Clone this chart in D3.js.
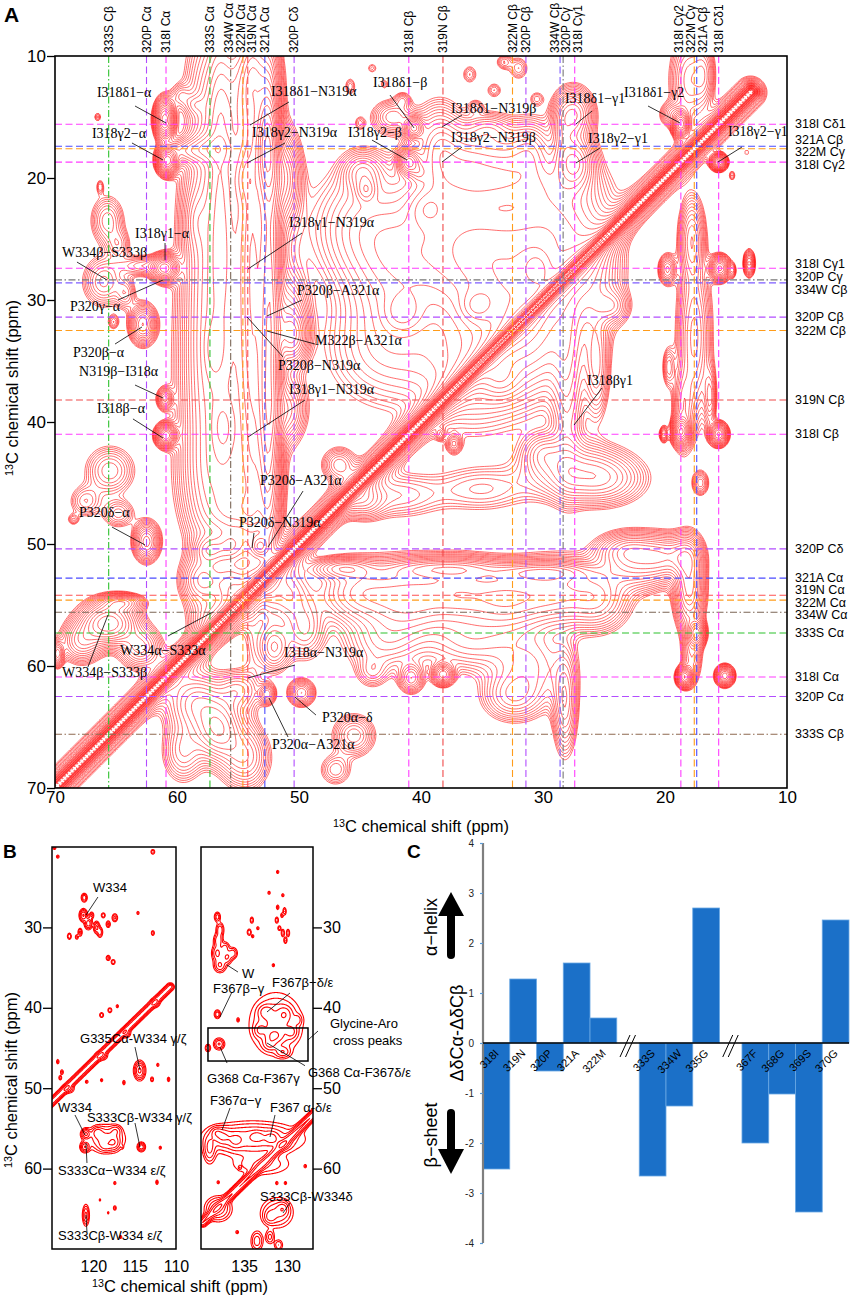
<!DOCTYPE html>
<html lang="en">
<head>
<meta charset="utf-8">
<title>13C-13C correlation spectra and secondary shifts</title>
<script src="https://cdn.jsdelivr.net/npm/d3@7"></script>
<style>
  body { margin: 0; background: #fff; }
  svg { display: block; font-family: "Liberation Sans", Arial, sans-serif; }
  .note { font-family: "Liberation Serif", "Times New Roman", serif; font-size: 14px; }
  .lead { stroke: #000; stroke-width: 0.8; }
</style>
</head>
<body>
<script>
// ---------- data: panel A (ppm) ----------
var shiftNames = ["333S Cβ", "320P Cα", "318I Cα", "333S Cα", "334W Cα", "322M Cα", "319N Cα", "321A Cα",
  "320P Cδ", "318I Cβ", "319N Cβ", "322M Cβ", "320P Cβ", "334W Cβ", "320P Cγ", "318I Cγ1",
  "318I Cγ2", "322M Cγ", "321A Cβ", "318I Cδ1"];
var shiftPpm = [65.6, 62.5, 60.9, 57.3, 55.6, 54.6, 54.2, 52.8, 50.4, 41.0, 38.2, 32.5, 31.4, 28.6, 28.35, 27.4,
  18.7, 17.6, 17.4, 15.6];
var ticksA = [10, 20, 30, 40, 50, 60, 70];

// cross peaks [x ppm, y ppm, width x, width y, height]
var peaksA = [
  [66.5, 15.0, 0.2, 0.25, 0.25], [61.0, 15.2, 0.45, 0.9, 2.5], [59.7, 13.3, 0.5, 0.6, 0.35], [58.6, 14.0, 0.5, 0.5, 0.3],
  [60.8, 18.6, 0.45, 0.6, 3.0], [59.5, 17.8, 1.0, 0.6, 0.6], [57.5, 17.6, 1.2, 0.7, 0.7], [66.3, 20.7, 0.2, 0.4, 0.25],
  [55.5, 14, 1.8, 4, 0.8], [55.0, 25, 2.2, 6, 1.2], [55.5, 37, 2.2, 6, 1.2], [56.0, 45, 2.0, 3, 0.8],
  [57.8, 30, 1.0, 12, 0.6], [56.5, 22, 0.6, 8, 0.8], [53.8, 28, 0.6, 14, 1.5], [52.6, 17.5, 0.5, 2.5, 4.0],
  [52.4, 28, 0.5, 10, 2.5], [52.5, 40, 0.55, 6, 2.0], [51.3, 20, 0.8, 2.0, 1.2], [50.8, 31.5, 0.9, 2, 0.8],
  [50.5, 33, 0.7, 1.2, 1.0], [51.0, 39, 0.9, 1.5, 0.7], [53.5, 12, 1.0, 2, 0.8], [55.0, 47.5, 1.5, 1.2, 0.6],
  [57.0, 34, 0.5, 1.5, 0.5], [56.2, 40.5, 0.6, 1.5, 0.6], [54.5, 20, 0.5, 1.2, 0.7], [58.5, 23.5, 0.6, 1.5, 0.4],
  [45, 24, 2.5, 3, 0.5], [42, 27, 2.5, 3.5, 0.6], [43, 34, 3, 3, 0.4], [37, 25, 3, 4, 0.9],
  [33, 28, 3, 4, 1.0], [29, 24, 2.5, 3.5, 0.9], [31, 33, 2.5, 3, 0.8], [36, 36, 3, 3, 0.5],
  [26, 28, 1.5, 3, 0.6], [24.3, 30.5, 0.8, 0.8, 0.5], [34, 20.5, 4, 1.2, 0.5], [39.5, 22.5, 1.0, 1.0, 0.5],
  [35.5, 30.5, 0.8, 0.8, 0.6], [30.5, 27.5, 0.8, 1.0, 0.7], [41.5, 31, 1.0, 1.0, 0.4], [33.5, 36.5, 1.0, 1.0, 0.4],
  [38.5, 17.5, 1.2, 2.0, 0.9], [36, 18.5, 1.5, 1.5, 0.7], [33, 18.5, 1.5, 1.5, 0.6], [31, 17.8, 1.0, 1.5, 0.6],
  [34.5, 16, 1.2, 0.8, 0.4], [36, 11.5, 0.4, 0.5, 0.25], [34, 12.8, 0.4, 0.4, 0.25], [32, 11, 0.5, 0.6, 0.3],
  [30.5, 13.5, 0.4, 0.4, 0.22], [33.2, 10.5, 0.4, 0.4, 0.3], [35.5, 14.2, 0.4, 0.4, 0.25],
  [40.6, 15.9, 0.45, 0.5, 1.5], [42.3, 15.0, 1.0, 0.8, 0.6], [41.5, 13.6, 0.4, 0.4, 0.3], [41.0, 18.7, 0.5, 0.6, 1.8],
  [40.2, 19.5, 0.4, 0.5, 0.5], [44.8, 19.5, 1.0, 1.0, 0.6], [44.5, 21.0, 0.5, 0.6, 0.5], [45.8, 12.5, 0.3, 0.5, 0.25],
  [45, 15.5, 0.3, 0.4, 0.22], [44, 11, 0.3, 0.3, 0.2], [43, 12.3, 0.25, 0.3, 0.2],
  [27.5, 14.8, 0.9, 1.2, 1.3], [27.4, 18.7, 0.9, 1.3, 1.4], [28.4, 16.5, 0.5, 1.5, 0.5],
  [18.0, 12, 0.9, 2.2, 0.7], [19.4, 14.8, 0.6, 0.6, 0.5], [18.7, 15.6, 0.35, 0.55, 2.5], [16.8, 11.5, 0.5, 1.5, 0.5],
  [15.6, 18.7, 0.35, 0.35, 2.5], [13.3, 17.9, 0.15, 0.2, 0.2], [14.5, 19.8, 0.18, 0.3, 0.25],
  [65.7, 23.5, 0.8, 1.2, 0.5], [64.8, 25.5, 0.6, 0.8, 0.35], [66, 28.5, 1.0, 1.2, 0.55], [64.2, 29.5, 0.5, 0.8, 0.35],
  [65.2, 31.8, 0.3, 0.4, 0.3], [61.0, 27.4, 0.6, 0.6, 2.0], [62.8, 27.2, 1.2, 0.5, 0.5], [62.8, 32.0, 0.6, 0.9, 1.3],
  [61.0, 38.1, 0.35, 0.5, 0.8], [60.9, 41.1, 0.45, 0.5, 2.2], [65.5, 44, 1.2, 1.2, 0.5], [67.5, 46.5, 0.8, 0.8, 0.35],
  [64.8, 47.5, 0.8, 0.7, 0.4], [62.5, 49.8, 0.6, 0.9, 1.2], [68.5, 48.0, 0.3, 0.3, 0.25],
  [57.3, 50.5, 0.8, 0.7, 0.7], [55.5, 50.2, 0.8, 0.8, 0.7], [58.0, 53, 1.0, 1.2, 0.8], [55.5, 53.5, 1.0, 1.3, 0.9],
  [57, 56, 1.2, 1.0, 0.5], [53.2, 50.2, 0.4, 0.5, 1.0],
  [65.6, 56.5, 1.3, 1.0, 2.2], [67.8, 58.0, 1.0, 1.0, 0.8], [63, 58.5, 1.0, 1.0, 0.8], [69.8, 59.0, 0.3, 0.6, 1.0],
  [64.5, 54.8, 1.0, 0.4, 1.0],
  [58.5, 63, 1.5, 1.5, 0.8], [56.6, 65.2, 1.2, 1.5, 1.2], [54.5, 67.5, 1.2, 1.5, 0.7], [59.5, 67, 1.0, 1.5, 0.5],
  [55, 62, 1.0, 1.0, 0.5],
  [51, 54, 1.2, 1.5, 0.6], [49.5, 57, 1.0, 1.5, 0.5], [52.0, 58.5, 0.8, 1.2, 0.6], [49.8, 62.2, 0.6, 0.6, 0.9],
  [52.6, 62.3, 0.4, 0.5, 0.7], [45.5, 65.7, 1.0, 1.0, 0.6], [47, 68.5, 0.8, 0.8, 0.35], [44.7, 46.4, 1.0, 0.9, 0.6],
  [46.7, 43.5, 0.8, 0.8, 0.6],
  [45, 54, 2.0, 1.5, 0.9], [41, 54.5, 2.0, 1.8, 1.0], [37, 54, 2.0, 1.6, 1.0], [33, 54.5, 2.0, 1.6, 1.1],
  [29, 54, 2.0, 1.6, 1.0], [25.5, 54.5, 1.5, 1.5, 0.8], [46.5, 52, 1.5, 0.5, 0.8], [38, 52, 3, 0.5, 0.8],
  [30, 52.3, 2.5, 0.5, 0.8], [22.3, 51.6, 1.8, 1.3, 0.9], [20.0, 51.0, 1.2, 1.0, 0.8], [18.0, 53.5, 0.7, 2.0, 1.4],
  [17.4, 57.3, 0.4, 0.6, 1.5], [18.4, 60.9, 0.35, 0.45, 2.2], [15.1, 60.8, 0.4, 0.45, 1.8], [17.8, 59, 0.5, 1.5, 0.5],
  [23, 50.5, 1.5, 0.8, 0.7], [18.3, 51, 0.8, 1, 0.8],
  [43, 58, 2, 1.5, 0.5], [36, 58, 2.5, 1.5, 0.5], [31, 60, 2, 2, 0.5], [38.2, 60.7, 0.5, 0.5, 1.2],
  [40.8, 61.0, 0.6, 0.7, 0.7], [32.5, 62.5, 1.5, 1.2, 0.5], [28.2, 63, 0.6, 2.5, 0.7], [44, 60.5, 0.8, 0.8, 0.3],
  [28, 37, 0.8, 5, 0.5], [25.6, 35.5, 0.6, 2.5, 0.6], [27.5, 44, 2.5, 1.5, 0.7], [25, 44.7, 2, 1.2, 0.6],
  [30, 42.5, 1, 1, 0.4], [37.3, 41.8, 0.35, 0.45, 0.5], [38.4, 41, 0.25, 0.3, 0.35], [42, 46, 2.5, 1.2, 0.35],
  [35, 45.5, 2.5, 1.2, 0.3],
  [17.8, 25, 0.6, 2, 0.8], [17.6, 33, 0.8, 4, 0.8], [18.5, 39, 0.5, 2, 0.6], [18.7, 40.8, 0.4, 0.6, 2.0],
  [15.6, 41.0, 0.4, 0.5, 2.0], [20.1, 41.0, 0.2, 0.4, 0.6], [15.5, 27.4, 0.45, 0.55, 2.0], [13.1, 27.0, 0.25, 0.6, 1.0],
  [19.8, 27.5, 0.4, 0.7, 0.8], [14.4, 27.6, 0.15, 0.4, 0.3], [16.3, 38, 0.3, 1.5, 0.5], [17.1, 45, 0.4, 0.6, 0.5],
  [19.7, 35.5, 0.3, 1, 0.4]
];
// diagonal ridges [x1, y1, x2, y2, width, height, profile (0 gaussian, 1 sharp)]
var diagA = [[71.5, 71.67, 12.8, 12.97, 0.137, 14, 1], [71.5, 71.33, 12.97, 12.8, 0.137, 14, 1],
  [71.5, 71.5, 13, 13, 0.75, 0.6, 0]];
// annotations [text, text x, text y, leader from x, y, to x, y] (ppm)
var notesA = [
  ["I318δ1−α", 66.56, 13.36, 63.44, 14.1, 60.9, 15.49],
  ["I318γ2−α", 66.97, 16.72, 63.69, 17.13, 61.15, 18.52],
  ["I318δ1−N319α", 52.3, 13.28, 50.82, 13.77, 54.02, 15.66],
  ["I318γ2−N319α", 53.85, 16.64, 51.15, 17.13, 54.26, 18.77],
  ["I318δ1−β", 43.93, 12.54, 42.54, 13.2, 40.57, 15.9],
  ["I318γ2−β", 45.98, 16.64, 44.02, 16.89, 41.15, 18.52],
  ["I318δ1−N319β", 37.54, 14.67, 36.64, 14.84, 38.28, 15.82],
  ["I318γ2−N319β", 37.54, 17.05, 36.64, 17.46, 38.28, 18.69],
  ["I318δ1−γ1", 28.2, 13.85, 25.98, 14.51, 27.3, 15.57],
  ["I318γ2−γ1", 26.31, 17.13, 25.33, 17.54, 27.3, 18.77],
  ["I318δ1−γ2", 23.36, 13.36, 21.39, 14.1, 18.77, 15.49],
  ["I318γ2−γ1", 14.84, 16.56, 13.69, 17.46, 15.66, 18.69],
  ["I318γ1−α", 63.44, 24.92, 60.98, 25.33, 60.98, 26.72],
  ["W334β−S333β", 69.43, 26.48, 68.2, 26.89, 65.74, 28.36],
  ["P320γ−α", 68.77, 30.9, 64.84, 30.0, 61.15, 28.36],
  ["P320β−α", 68.52, 34.67, 65.08, 33.61, 62.87, 32.21],
  ["N319β−I318α", 68.03, 36.23, 63.44, 36.97, 61.15, 38.03],
  ["I318β−α", 66.56, 39.26, 63.61, 39.75, 61.15, 41.31],
  ["I318γ1−N319α", 50.82, 24.02, 49.75, 24.51, 54.18, 27.46],
  ["P320β−A321α", 50.16, 29.59, 49.75, 30.0, 52.62, 31.31],
  ["M322β−A321α", 48.69, 33.69, 48.69, 33.61, 52.62, 32.54],
  ["P320β−N319α", 51.72, 35.74, 51.31, 34.67, 54.26, 31.39],
  ["I318γ1−N319α", 50.82, 37.7, 49.51, 38.2, 54.18, 41.23],
  ["I318βγ1", 26.39, 36.97, 25.16, 37.21, 27.46, 40.25],
  ["P320δ−A321α", 53.2, 45.16, 49.67, 45.66, 52.54, 50.25],
  ["P320δ−N319α", 54.92, 48.61, 53.69, 49.1, 53.85, 50.33],
  ["P320δ−α", 68.03, 47.79, 65.33, 48.61, 62.62, 50.08],
  ["W334α−S333α", 64.67, 59.1, 60.74, 57.54, 57.05, 55.57],
  ["W334β−S333β", 69.43, 60.9, 67.3, 60.08, 65.66, 55.82],
  ["I318α−N319α", 51.23, 59.26, 50.33, 59.92, 54.18, 60.98],
  ["P320α−δ", 48.11, 64.59, 48.61, 64.02, 50.33, 62.54],
  ["P320α−A321α", 52.21, 66.8, 50.9, 65.82, 52.46, 62.62]
];

// ---------- data: panel B (ppm) ----------
var ticksBy = [30, 40, 50, 60];
var ticksBLx = [120, 115, 110];
var ticksBRx = [135, 130];
var peaksBL = [
  [124.7, 20.1, .12, .15, .4], [124.3, 21.2, .12, .15, .35], [112.8, 20.6, .15, .2, .45],
  [121.1, 26.3, .2, .3, .8], [121.2, 28.5, .25, .4, 1.5], [120.6, 29.5, .25, .4, 1.2], [119.6, 30, .2, .4, 1],
  [119.2, 30.6, .18, .35, .8], [120.2, 28.5, .15, .25, .6], [118.8, 28.5, .15, .2, .5], [118.2, 29.6, .15, .25, .6],
  [117.4, 28.8, .2, .3, .6], [121.6, 30.6, .15, .3, .6], [122.9, 31.1, .15, .25, .5], [122, 31.2, .12, .2, .4],
  [114.6, 28.2, .1, .15, .35], [112.8, 30.7, .12, .2, .45], [118.2, 33.8, .15, .2, .55], [117.6, 34.3, .15, .2, .5],
  [119, 40.9, .15, .2, .5], [118, 40.3, .15, .2, .5], [117.1, 39.8, .1, .15, .35],
  [123, 50.1, .4, .3, .6], [119, 46, .4, .3, .7], [116, 43.2, .3, .3, .6], [112.5, 39.4, .3, .3, .7],
  [114.4, 47.8, .35, .6, 1.6],
  [124.3, 46.7, .1, .2, .4], [123.8, 48, .12, .2, .4], [124, 48.7, .12, .2, .4], [120.8, 49.2, .12, .15, .35],
  [116.3, 49.3, .1, .2, .4], [112.9, 48.9, .12, .2, .45], [112.2, 47.1, .1, .15, .35], [110.9, 48.9, .1, .2, .4],
  [109.5, 48, .1, .15, .35], [119, 49, .1, .15, .35],
  [120.9, 55.7, .3, .35, 1.5], [121, 57.3, .3, .35, 1.4], [118.5, 56.3, 1.2, .9, 1.1], [119.5, 55.5, .4, .4, .8],
  [117.5, 56.8, .4, .5, .8], [118.5, 57.2, .5, .4, .6], [117.3, 55.3, .4, .4, .6], [114.2, 57.3, .25, .3, 1.3],
  [116.5, 57.3, .08, .15, .3], [111.9, 57.4, .1, .15, .35], [117.4, 61.8, .1, .15, .35], [112.3, 61.7, .1, .2, .4],
  [119.2, 63.9, .08, .12, .3], [117.4, 64.9, .12, .2, .4], [118.2, 65.5, .08, .12, .3], [116.7, 68.5, .1, .15, .35],
  [120.9, 65.8, .22, .7, 1.0]
];
var diagBL = [[125.8, 52.5, 110.7, 37.4, 0.25, 1.2, 0]];
var peaksBR = [
  [131.1, 23.1, .1, .15, .35], [132.1, 25.7, .1, .15, .35], [130.5, 26, .1, .15, .35], [131.1, 27.5, .1, .2, .4],
  [130.3, 28, .12, .3, .5], [130.6, 28.5, .1, .2, .4],
  [138.1, 28.7, .2, .35, .7], [137.8, 30.3, .25, .5, .8], [138, 31.6, .3, .5, .8], [138.1, 33.2, .35, .6, 1.0],
  [137, 33.7, .35, .5, .9], [136.3, 33.2, .3, .4, .7], [137.8, 34.7, .4, .5, .9], [137.2, 32.5, .3, .4, .6],
  [134.1, 29.1, .12, .25, .5], [133.4, 30.1, .1, .15, .35], [134.4, 30.6, .15, .25, .5], [134, 31.1, .1, .15, .35],
  [131.2, 29.1, .12, .25, .5], [130.9, 30.1, .12, .2, .45], [130.5, 30.7, .12, .3, .5], [129.9, 30.7, .12, .3, .5],
  [130.2, 31.6, .12, .25, .5], [131.6, 34.7, .1, .15, .35],
  [131.3, 42, 1.6, 2.0, 1.0], [132.5, 40.5, .5, .5, .8], [130.3, 40.8, .5, .6, .8], [131.5, 43.5, .6, .5, .9],
  [129.5, 43, .4, .5, .7], [133.2, 42.8, .4, .5, .6], [130.5, 45.5, .5, .4, .7], [132, 44.5, .5, .5, .7],
  [128.8, 41.5, .3, .4, .5],
  [138.1, 40.8, .2, .3, .8], [135.7, 41.5, .1, .2, .35], [137.9, 44.5, .35, .4, .9], [139.2, 45, .2, .3, .5],
  [134, 56.3, 3.0, 1.1, 1.2], [137.5, 56, .6, .6, 1.0], [136, 56.5, .5, .6, .8], [133.5, 56, .5, .4, .9],
  [131.8, 56.2, .5, .5, 1.0], [130.5, 57, .5, .4, .8], [139, 57.5, .4, 1.0, .9], [138.2, 55.5, .4, .4, .8],
  [138, 65, .8, .8, 1.2], [131.2, 65.5, 1.0, 1.0, .9], [130.5, 65, .4, .5, .8], [132, 66, .4, .5, .7],
  [133.5, 69, .4, .7, .7], [132, 68.5, .3, .5, .6], [131, 69.5, .3, .4, .5],
  [135.5, 59.9, .1, .15, .35], [127.9, 59.7, .1, .15, .35], [131.2, 61.8, .1, .15, .35], [130.2, 61.8, .1, .15, .35],
  [138, 61.7, .1, .15, .35], [135.8, 67.9, .12, .15, .35], [133, 59.5, 2, .8, .5]
];
var diagBR = [[126.0, 52.3, 139.8, 66.7, 0.28, 1.4, 0]];
var notesBL = [
  ["W334", 120.04, 25.6, 119.44, 26.22, 120.89, 28.46],
  ["G335Cα-W334 γ/ζ", 121.61, 44.38, 114.96, 44.88, 114.36, 47.74],
  ["W334", 124.27, 52.96, 122.22, 53.33, 121.01, 55.82],
  ["S333Cβ-W334 γ/ζ", 120.77, 54.2, 114.96, 54.33, 114.36, 57.31],
  ["S333Cα−W334 ε/ζ", 124.27, 60.8, 120.77, 59.3, 120.89, 56.82],
  ["S333Cβ-W334 ε/ζ", 124.27, 68.88, 120.77, 67.89, 120.89, 65.77]
];
var notesBR = [
  ["W", 135.24, 36.29, 135.71, 35.55, 136.98, 34.68],
  ["F367β−γ", 138.61, 38.16, 136.4, 38.03, 137.79, 41.14],
  ["F367β−δ/ε", 131.76, 37.41, 129.67, 38.16, 132.34, 40.52],
  ["Glycine-Aro", 125.03, 42.51, 126.42, 42.89, 127.58, 44.0],
  ["cross peaks", 124.68, 44.63, null, null, null, null],
  ["G368 Cα-F367γ", 139.3, 49.35, 136.98, 46.87, 137.79, 44.88],
  ["G368 Cα-F367δ/ε", 127.58, 48.55, 127.93, 47.2, 132.34, 44.38],
  ["F367α−γ", 138.96, 52.09, 136.63, 52.46, 137.56, 55.2],
  ["F367 α-δ/ε", 131.99, 52.96, 131.41, 53.33, 131.99, 56.07],
  ["S333Cβ-W334δ", 133.15, 64.03, 129.67, 64.28, 130.48, 65.52]
];
var glyBox = [139.19, 42.51, 127.58, 46.62];

// ---------- data: panel C ----------
var residues = ["318I", "319N", "320P", "321A", "322M", "333S", "334W", "335G", "367F", "368G", "369S", "370G"];
var residueGroup = [0, 0, 0, 0, 0, 1, 1, 1, 2, 2, 2, 2];
var deltaShift = [-2.52, 1.28, -0.56, 1.6, 0.5, -2.66, -1.26, 2.7, -2.0, -1.02, -3.38, 2.46];
var ticksC = [-4, -3, -2, -1, 0, 1, 2, 3, 4];

// ---------- styles ----------
var lineColor = {
  "333S Cβ": "#2dc22d", "320P Cα": "#b24dff", "318I Cα": "#ff3cff", "333S Cα": "#2dc22d", "334W Cα": "#7b6656",
  "322M Cα": "#ff9c1a", "319N Cα": "#ff5050", "321A Cα": "#4b4bff", "320P Cδ": "#b24dff", "318I Cβ": "#ff3cff",
  "319N Cβ": "#f04a4a", "322M Cβ": "#ff9c1a", "320P Cβ": "#b24dff", "334W Cβ": "#7d5cff", "320P Cγ": "#777777",
  "318I Cγ1": "#ff3cff", "318I Cγ2": "#ff3cff", "322M Cγ": "#ff9c1a", "321A Cβ": "#4b4bff", "318I Cδ1": "#ff3cff"
};
var hOverride = { "333S Cβ": "#8f6a50" };
var dashDot = ["333S Cβ", "334W Cα", "320P Cγ"];

var W = 851, H = 1298;
var svg = d3.select("body").append("svg").attr("width", W).attr("height", H);

// field built from the peak list, contoured by d3.contours
function buildField(peaks, ridges, xr, yr, step) {
  var n = Math.round((xr[1] - xr[0]) / step) + 1, m = Math.round((yr[1] - yr[0]) / step) + 1;
  var v = new Float64Array(n * m);
  peaks.forEach(function (p) {
    var cx = p[0], cy = p[1], sx = p[2], sy = p[3], a = p[4];
    var i0 = Math.max(0, Math.floor((cx - 4 * sx - xr[0]) / step)), i1 = Math.min(n - 1, Math.ceil((cx + 4 * sx - xr[0]) / step));
    var j0 = Math.max(0, Math.floor((cy - 4 * sy - yr[0]) / step)), j1 = Math.min(m - 1, Math.ceil((cy + 4 * sy - yr[0]) / step));
    for (var j = j0; j <= j1; j++) {
      var dy = (yr[0] + j * step - cy) / sy, ey = Math.exp(-0.5 * dy * dy);
      for (var i = i0; i <= i1; i++) {
        var dx = (xr[0] + i * step - cx) / sx;
        v[j * n + i] += a * ey * Math.exp(-0.5 * dx * dx);
      }
    }
  });
  ridges.forEach(function (r) {
    var xa = r[0], ya = r[1], ux = r[2] - r[0], uy = r[3] - r[1], s = r[4], a = r[5], sharp = r[6] === 1;
    var L2 = ux * ux + uy * uy, lim = sharp ? 9 * s : 4 * s;
    for (var j = 0; j < m; j++) {
      var py = yr[0] + j * step;
      for (var i = 0; i < n; i++) {
        var px = xr[0] + i * step;
        var t = Math.max(0, Math.min(1, ((px - xa) * ux + (py - ya) * uy) / L2));
        var dx = px - (xa + t * ux), dy = py - (ya + t * uy), d = Math.sqrt(dx * dx + dy * dy);
        if (d < lim) v[j * n + i] += sharp ? a * Math.exp(-d / s) : a * Math.exp(-0.5 * d * d / (s * s));
      }
    }
  });
  return { values: v, n: n, m: m, x0: xr[0], y0: yr[0], step: step };
}

function drawContours(g, f, thresholds, xs, ys, color, width) {
  var cs = d3.contours().size([f.n, f.m]).thresholds(thresholds)(f.values);
  var proj = d3.geoTransform({
    point: function (x, y) {
      this.stream.point(xs(f.x0 + (x - 0.5) * f.step), ys(f.y0 + (y - 0.5) * f.step));
    }
  });
  var path = d3.geoPath(proj);
  g.selectAll("path.c").data(cs).join("path").attr("class", "c")
    .attr("d", path).attr("fill", "none").attr("stroke", color).attr("stroke-width", width)
    .attr("stroke-linejoin", "round");
}

function spread(vals, gap) {
  var idx = d3.range(vals.length).sort(function (a, b) { return vals[a] - vals[b]; });
  var p = idx.map(function (i) { return vals[i]; });
  for (var it = 0; it < 400; it++) {
    var moved = false;
    for (var k = 0; k < p.length - 1; k++) {
      var d = p[k + 1] - p[k];
      if (d < gap - 0.01) { var s = (gap - d) / 2; p[k] -= s; p[k + 1] += s; moved = true; }
    }
    if (!moved) break;
  }
  var out = [];
  idx.forEach(function (i, k) { out[i] = p[k]; });
  return out;
}

function axisTitle(sel, x, y, rotate, size) {
  var t = sel.append("text").attr("text-anchor", "middle").attr("font-size", size)
    .attr("transform", "translate(" + x + "," + y + ")" + (rotate ? " rotate(-90)" : ""));
  t.append("tspan").attr("font-size", size * 0.65).attr("dy", "-0.45em").text("13");
  t.append("tspan").attr("dy", "0.3em").text("C chemical shift (ppm)");
}

function notes(g, list, xs, ys, cls, size) {
  list.forEach(function (d) {
    if (d[3] !== null) {
      g.append("line").attr("class", "lead")
        .attr("x1", xs(d[3])).attr("y1", ys(d[4])).attr("x2", xs(d[5])).attr("y2", ys(d[6]));
    }
    var t = g.append("text").attr("x", xs(d[1])).attr("y", ys(d[2])).text(d[0]);
    if (cls) t.attr("class", cls); else t.attr("font-size", size);
  });
}

// ================= Panel A =================
var xA = d3.scaleLinear().domain([70, 10]).range([55, 787]);
var yA = d3.scaleLinear().domain([10, 70]).range([56, 788]);

svg.append("clipPath").attr("id", "clipA").append("rect")
  .attr("x", 55).attr("y", 56).attr("width", 732).attr("height", 732);
var gA = svg.append("g");
var fieldA = buildField(peaksA, diagA, [9, 71], [9, 71], 0.2);
var thrA = d3.range(27).map(function (k) { return 0.12 * Math.pow(1.2, k); });
drawContours(gA.append("g").attr("clip-path", "url(#clipA)"), fieldA, thrA, xA, yA, "#ff0d0d", 0.6);

// assignment lines
var gLines = gA.append("g").attr("fill", "none").attr("stroke-width", 1.1);
shiftNames.forEach(function (name, i) {
  var dash = dashDot.indexOf(name) >= 0 ? "7,2.5,1.5,2.5" : "7,3.5";
  gLines.append("line").attr("x1", xA(shiftPpm[i])).attr("x2", xA(shiftPpm[i]))
    .attr("y1", yA(10)).attr("y2", yA(70)).attr("stroke", lineColor[name]).attr("stroke-dasharray", dash);
  gLines.append("line").attr("y1", yA(shiftPpm[i])).attr("y2", yA(shiftPpm[i]))
    .attr("x1", xA(70)).attr("x2", xA(10)).attr("stroke", hOverride[name] || lineColor[name])
    .attr("stroke-dasharray", dash);
});

// labels at top and right
var topX = spread(shiftPpm.map(function (p) { return xA(p); }), 11.6);
gA.append("g").selectAll("text").data(shiftNames).join("text")
  .attr("font-size", 12)
  .attr("transform", function (d, i) { return "translate(" + (topX[i] + 4.3) + ",53) rotate(-90)"; })
  .text(function (d) { return d; });
var rightY = spread(shiftPpm.map(function (p) { return yA(p); }), 12.6);
gA.append("g").selectAll("text").data(shiftNames).join("text")
  .attr("font-size", 12.5).attr("x", 795)
  .attr("y", function (d, i) { return rightY[i] + 4; })
  .text(function (d) { return d; });

// annotations
notes(gA.append("g"), notesA, xA, yA, "note");

// frame and axes
gA.append("rect").attr("x", 55).attr("y", 56).attr("width", 732).attr("height", 732)
  .attr("fill", "none").attr("stroke", "#000").attr("stroke-width", 1.6);
var axL = gA.append("g").attr("transform", "translate(55,0)")
  .call(d3.axisLeft(yA).tickValues(ticksA).tickSize(8).tickPadding(1).tickFormat(function (d) { return d; }));
var axB = gA.append("g").attr("transform", "translate(0,788)")
  .call(d3.axisBottom(xA).tickValues(ticksA).tickSize(0).tickPadding(3).tickFormat(function (d) { return d; }));
[axL, axB].forEach(function (a) {
  a.select(".domain").remove();
  a.selectAll("text").attr("font-size", 17).attr("font-family", "Liberation Sans, Arial, sans-serif").attr("fill", "#000");
  a.selectAll("line").attr("stroke", "#000").attr("stroke-width", 1.3);
});
axisTitle(gA, 421, 832, false, 16.5);
axisTitle(gA, 18, 388, true, 16.5);
svg.append("text").attr("x", 4).attr("y", 22).attr("font-size", 21).attr("font-weight", "bold").text("A");

// ================= Panel B =================
var yB = d3.scaleLinear().domain([20, 70]).range([847, 1249]);
var xBL = d3.scaleLinear().domain([125, 110]).range([52, 176]);
var xBR = d3.scaleLinear().domain([140, 127]).range([201, 313]);
var gB = svg.append("g");
var thrB = [0.15, 0.28, 0.5, 0.85, 1.4, 2.2];

svg.append("clipPath").attr("id", "clipBL").append("rect").attr("x", 52).attr("y", 847).attr("width", 124).attr("height", 402);
svg.append("clipPath").attr("id", "clipBR").append("rect").attr("x", 201).attr("y", 847).attr("width", 112).attr("height", 402);
drawContours(gB.append("g").attr("clip-path", "url(#clipBL)"), buildField(peaksBL, diagBL, [108.5, 126.5], [19, 71], 0.1), thrB, xBL, yB, "#ff0000", 1.1);
drawContours(gB.append("g").attr("clip-path", "url(#clipBR)"), buildField(peaksBR, diagBR, [125.5, 141.5], [19, 71], 0.1), thrB, xBR, yB, "#ff0000", 1.1);

gB.append("rect").attr("x", 52).attr("y", 847).attr("width", 124).attr("height", 402)
  .attr("fill", "none").attr("stroke", "#000").attr("stroke-width", 1.5);
gB.append("rect").attr("x", 201).attr("y", 847).attr("width", 112).attr("height", 402)
  .attr("fill", "none").attr("stroke", "#000").attr("stroke-width", 1.5);
gB.append("rect").attr("x", xBR(glyBox[0])).attr("y", yB(glyBox[1]))
  .attr("width", xBR(glyBox[2]) - xBR(glyBox[0])).attr("height", yB(glyBox[3]) - yB(glyBox[1]))
  .attr("fill", "none").attr("stroke", "#000").attr("stroke-width", 1.5);

var fmt = function (d) { return d; };
var bAxes = [
  gB.append("g").attr("transform", "translate(52,0)").call(d3.axisLeft(yB).tickValues(ticksBy).tickSize(9).tickPadding(1).tickFormat(fmt)),
  gB.append("g").attr("transform", "translate(313,0)").call(d3.axisRight(yB).tickValues(ticksBy).tickSize(9).tickPadding(1).tickFormat(fmt)),
  gB.append("g").attr("transform", "translate(0,1249)").call(d3.axisBottom(xBL).tickValues(ticksBLx).tickSize(0).tickPadding(12).tickFormat(fmt)),
  gB.append("g").attr("transform", "translate(0,1249)").call(d3.axisBottom(xBR).tickValues(ticksBRx).tickSize(0).tickPadding(12).tickFormat(fmt))
];
bAxes.forEach(function (a) {
  a.select(".domain").remove();
  a.selectAll("text").attr("font-size", 16).attr("font-family", "Liberation Sans, Arial, sans-serif").attr("fill", "#000");
  a.selectAll("line").attr("stroke", "#000").attr("stroke-width", 1.3);
});
notes(gB.append("g"), notesBL, xBL, yB, null, 13);
notes(gB.append("g"), notesBR, xBR, yB, null, 13);
axisTitle(gB, 180, 1292, false, 16.5);
axisTitle(gB, 17, 1080, true, 16.5);
svg.append("text").attr("x", 3).attr("y", 858).attr("font-size", 19).attr("font-weight", "bold").text("B");

// ================= Panel C =================
var gC = svg.append("g");
var gapSlots = 0.84;
var slotX = d3.scaleLinear().domain([0, residues.length + 2 * gapSlots]).range([483, 849]);
var slotW = slotX(1) - slotX(0);
var barLeft = function (i) { return slotX(i + residueGroup[i] * gapSlots); };
var yC = d3.scaleLinear().domain([-4, 4]).range([1243, 843]);

gC.selectAll("rect.bar").data(deltaShift).join("rect").attr("class", "bar")
  .attr("x", function (d, i) { return barLeft(i); })
  .attr("width", slotW)
  .attr("y", function (d) { return yC(Math.max(0, d)); })
  .attr("height", function (d) { return Math.abs(yC(d) - yC(0)); })
  .attr("fill", "#1b70c8").attr("stroke", "#6aa8e4").attr("stroke-width", 0.8);

var axC = gC.append("g").attr("transform", "translate(483,0)")
  .call(d3.axisLeft(yC).tickValues(ticksC).tickSize(3).tickPadding(6).tickFormat(function (d) { return String(d); }));
axC.select(".domain").attr("stroke", "#7f7f7f").attr("stroke-width", 2.2).attr("d", "M0," + yC(4) + "V" + yC(-4));
axC.selectAll("line").attr("stroke", "#5b9bd5").attr("stroke-width", 1.2);
axC.selectAll("text").attr("font-size", 10).attr("fill", "#222").attr("font-family", "Liberation Sans, Arial, sans-serif");

gC.append("line").attr("x1", 483).attr("x2", 849).attr("y1", yC(0)).attr("y2", yC(0))
  .attr("stroke", "#000").attr("stroke-width", 1.3);

// axis breaks
[1, 2].forEach(function (gidx) {
  var firstOf = residueGroup.indexOf(gidx);
  var cx = (barLeft(firstOf - 1) + slotW + barLeft(firstOf)) / 2;
  [-3, 2.5].forEach(function (off) {
    gC.append("line").attr("x1", cx + off - 5).attr("y1", yC(0) + 14)
      .attr("x2", cx + off + 5).attr("y2", yC(0) - 8).attr("stroke", "#000").attr("stroke-width", 1);
  });
});

gC.selectAll("text.res").data(residues).join("text").attr("class", "res")
  .attr("font-size", 11).attr("text-anchor", "end")
  .attr("transform", function (d, i) {
    return "translate(" + (barLeft(i) + slotW / 2 + 3) + "," + (yC(0) + 11) + ") rotate(-45)";
  })
  .text(function (d) { return d; });

gC.append("text").attr("text-anchor", "middle").attr("font-size", 18)
  .attr("transform", "translate(463," + 1033 + ") rotate(-90)").text("ΔδCα-ΔδCβ");
gC.append("text").attr("text-anchor", "middle").attr("font-size", 18)
  .attr("transform", "translate(437,927) rotate(-90)").text("α−helix");
gC.append("text").attr("text-anchor", "middle").attr("font-size", 18)
  .attr("transform", "translate(437,1135) rotate(-90)").text("β−sheet");

// arrows
gC.append("line").attr("x1", 451).attr("x2", 451).attr("y1", 955).attr("y2", 912)
  .attr("stroke", "#000").attr("stroke-width", 8).attr("stroke-linecap", "round");
gC.append("path").attr("d", "M438,916L464,916L451,892Z").attr("fill", "#000");
gC.append("line").attr("x1", 451).attr("x2", 451).attr("y1", 1113).attr("y2", 1152)
  .attr("stroke", "#000").attr("stroke-width", 8).attr("stroke-linecap", "round");
gC.append("path").attr("d", "M438,1149L464,1149L451,1174Z").attr("fill", "#000");

svg.append("text").attr("x", 407).attr("y", 858).attr("font-size", 19).attr("font-weight", "bold").text("C");
</script>
</body>
</html>
